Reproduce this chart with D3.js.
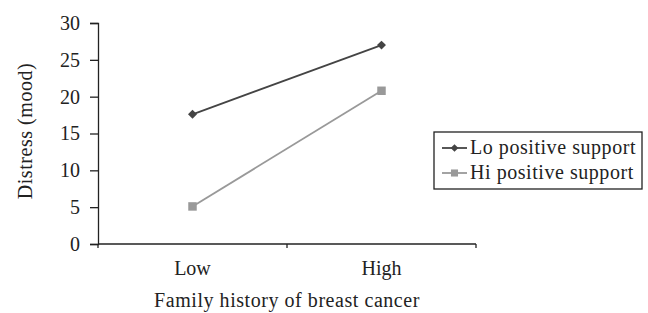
<!DOCTYPE html>
<html lang="en">
<head>
  <script src="https://cdn.jsdelivr.net/npm/d3@7/dist/d3.min.js"></script>
  <style>
    body { margin: 0; background: #fff; }
  </style>
</head>
<body>
  <script>
    var categories = ["Low", "High"];
    var loSupport = [17.6, 27.0];
    var hiSupport = [5.1, 20.8];
    var seriesNames = ["Lo positive support", "Hi positive support"];
    var yTicks = [0, 5, 10, 15, 20, 25, 30];

    var FONT = "Liberation Serif";
    var FS = 20;
    var LS = "0.55px";
    var w = 648, h = 313;
    var margin = { top: 23, left: 98, right: 172, bottom: 69 };
    var width = w - margin.left - margin.right;
    var height = h - margin.top - margin.bottom;

    var svg = d3.select("body").append("svg")
                .attr("width", w)
                .attr("height", h)
                .attr("font-family", FONT);
    var chart = svg.append("g")
                   .attr("transform", "translate(" + margin.left + "," + margin.top + ")");

    var x = d3.scaleBand().domain(categories).range([0, width]);
    var y = d3.scaleLinear().domain([0, 30]).range([height, 0]);

    // y axis
    var yAxis = chart.append("g")
                     .call(d3.axisLeft(y).tickValues(yTicks).tickSize(8).tickPadding(10));
    yAxis.attr("font-family", FONT).attr("font-size", FS);
    yAxis.select(".domain").attr("stroke", "#222").attr("stroke-width", 1.3);
    yAxis.selectAll(".tick line").attr("stroke", "#222").attr("stroke-width", 1.3);
    yAxis.selectAll("text").attr("fill", "#222");

    // x axis: ticks sit on the band edges
    var xg = chart.append("g").attr("transform", "translate(0," + height + ")");
    xg.append("line").attr("x1", 0).attr("x2", width)
      .attr("stroke", "#222").attr("stroke-width", 1.3);
    var bounds = [0].concat(categories.map(function(c) { return x(c) + x.bandwidth(); }));
    xg.selectAll(".xt").data(bounds).enter().append("line")
      .attr("x1", function(d) { return d; }).attr("x2", function(d) { return d; })
      .attr("y1", 0).attr("y2", 4)
      .attr("stroke", "#222").attr("stroke-width", 1.3);
    xg.selectAll(".xl").data(categories).enter().append("text")
      .attr("x", function(d) { return x(d) + x.bandwidth() / 2; })
      .attr("y", 31)
      .attr("text-anchor", "middle")
      .attr("font-family", FONT)
      .attr("font-size", FS)
      .attr("fill", "#222")
      .text(function(d) { return d; });

    // axis titles
    svg.append("text")
       .attr("transform", "translate(32,131) rotate(-90)")
       .attr("text-anchor", "middle")
       .attr("font-family", FONT)
       .attr("font-size", FS)
       .attr("letter-spacing", LS)
       .attr("fill", "#222")
       .text("Distress (mood)");
    svg.append("text")
       .attr("x", 287)
       .attr("y", 307)
       .attr("text-anchor", "middle")
       .attr("font-family", FONT)
       .attr("font-size", FS)
       .attr("letter-spacing", LS)
       .attr("fill", "#222")
       .text("Family history of breast cancer");

    var line = d3.line()
                 .x(function(d, i) { return x(categories[i]) + x.bandwidth() / 2; })
                 .y(function(d) { return y(d); });

    // diamond = square turned 45 degrees
    var series = [
      { name: seriesNames[0], values: loSupport, color: "#444", rot: 45, size: 40, lsize: 30 },
      { name: seriesNames[1], values: hiSupport, color: "#999", rot: 0, size: 72, lsize: 50 }
    ];

    series.forEach(function(s) {
      chart.append("path")
           .attr("d", line(s.values))
           .attr("fill", "none")
           .attr("stroke", s.color)
           .attr("stroke-width", 1.8);
      chart.selectAll(null).data(s.values).enter().append("path")
           .attr("d", d3.symbol().type(d3.symbolSquare).size(s.size))
           .attr("transform", function(d, i) {
             return "translate(" + (x(categories[i]) + x.bandwidth() / 2) + "," + y(d) + ") rotate(" + s.rot + ")";
           })
           .attr("fill", s.color);
    });

    // legend
    var legend = svg.append("g").attr("transform", "translate(434,132)");
    legend.append("rect")
          .attr("width", 208).attr("height", 57)
          .attr("fill", "#fff").attr("stroke", "#222").attr("stroke-width", 1.3);
    series.forEach(function(s, i) {
      var g = legend.append("g").attr("transform", "translate(0," + (16 + i * 25) + ")");
      g.append("line").attr("x1", 8).attr("x2", 33)
       .attr("stroke", s.color).attr("stroke-width", 1.8);
      g.append("path")
       .attr("d", d3.symbol().type(d3.symbolSquare).size(s.lsize))
       .attr("transform", "translate(20.5,0) rotate(" + s.rot + ")")
       .attr("fill", s.color);
      g.append("text")
       .attr("x", 36).attr("y", 6)
       .attr("font-family", FONT)
       .attr("font-size", FS)
       .attr("letter-spacing", LS)
       .attr("fill", "#222")
       .text(s.name);
    });
  </script>
</body>
</html>
